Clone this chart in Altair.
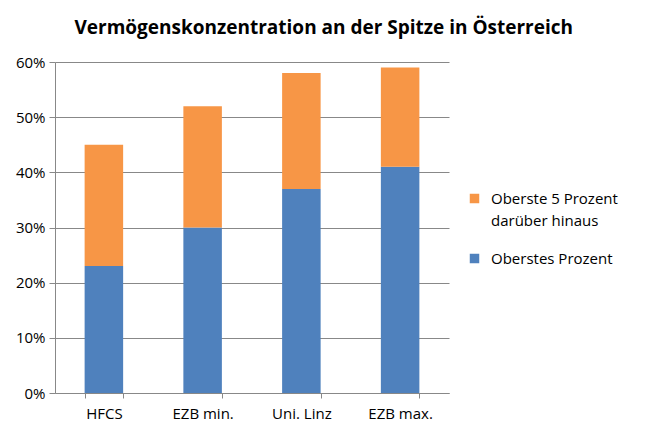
import altair as alt
import pandas as pd

categories = ["HFCS", "EZB min.", "Uni. Linz", "EZB max."]
top1 = [0.23, 0.30, 0.37, 0.41]
top5_rest = [0.22, 0.22, 0.21, 0.18]
series = ["Oberste 5 Prozent darüber hinaus", "Oberstes Prozent"]
colors = ["#F79646", "#4F81BD"]

rows = []
for c, a, b in zip(categories, top1, top5_rest):
    rows.append({"cat": c, "serie": series[1], "val": a, "ord": 0})
    rows.append({"cat": c, "serie": series[0], "val": b, "ord": 1})
df = pd.DataFrame(rows)

font = "Open Sans"

chart = alt.Chart(df).mark_bar().encode(
    x=alt.X("cat:N", sort=categories, title=None,
            scale=alt.Scale(paddingInner=0.61, paddingOuter=0.3),
            axis=alt.Axis(labelAngle=0, tickBand="extent", labelFontSize=15,
                          labelPadding=8, labelColor="#000", domainColor="#888",
                          tickColor="#888", tickSize=5, labelFont=font)),
    y=alt.Y("val:Q", stack="zero", title=None,
            scale=alt.Scale(domain=[0, 0.6]),
            axis=alt.Axis(format=".0%", values=[0, .1, .2, .3, .4, .5, .6],
                          labelFontSize=15, labelColor="#000", labelFont=font,
                          gridColor="#888", domainColor="#888", tickColor="#888",
                          tickSize=6, labelPadding=4)),
    color=alt.Color("serie:N", sort=series,
                    scale=alt.Scale(domain=series, range=colors),
                    legend=alt.Legend(title=None, orient="none", legendX=412, legendY=129,
                                      symbolType="square", symbolSize=90,
                                      labelFontSize=15, labelFont=font, labelColor="#000",
                                      labelOffset=9,
                                      labelExpr="datum.label == 'Oberste 5 Prozent darüber hinaus' ? ['Oberste 5 Prozent', 'darüber hinaus'] : datum.label",
                                      rowPadding=22, labelLimit=300, symbolStrokeWidth=0)),
    order=alt.Order("ord:Q"),
).properties(
    width=394, height=331,
    title=alt.TitleParams("Vermögenskonzentration an der Spitze in Österreich",
                          fontSize=19, font=font, fontWeight="bold", color="#000",
                          offset=17, anchor="start", dx=59),
    padding={"left": 7, "top": 11, "right": 5, "bottom": 5},
).configure(view={"strokeWidth": 0}, style={"guide-label": {"lineHeight": 22}})

chart.save("out.html", embed_options={"renderer": "svg", "actions": False})
